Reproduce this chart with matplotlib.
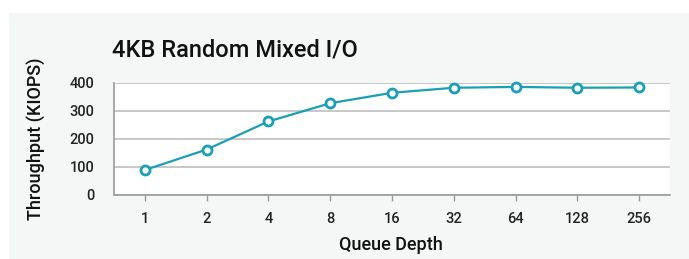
import matplotlib
matplotlib.use("Agg")
import matplotlib.pyplot as plt
from matplotlib.patches import Rectangle

categories = ["1", "2", "4", "8", "16", "32", "64", "128", "256"]
throughput = [89, 162, 262, 327, 364, 382, 385, 382, 383]
yticks = [0, 100, 200, 300, 400]

W, H = 689, 259
fig = plt.figure(figsize=(W / 100, H / 100), dpi=100)
fig.patch.set_facecolor("white")
fig.add_artist(Rectangle((9 / W, 0), 1 - 9 / W, (H - 13) / H, transform=fig.transFigure,
                         facecolor="#f5f6f6", edgecolor="none", zorder=0))

ax = fig.add_axes([114 / W, (H - 195) / H, (670 - 114) / W, (195 - 82.7) / H])
ax.set_facecolor("white")
x = list(range(len(categories)))
teal = "#1a9fb5"
ax.plot(x, throughput, color=teal, lw=1.6, marker="o", ms=6.5, mfc="white",
        mec=teal, mew=2, zorder=3, clip_on=False)

ax.set_xlim(-0.5, len(categories) - 0.5)
ax.set_ylim(0, 400)
ax.set_yticks(yticks)
ax.set_xticks(x)
ax.set_xticklabels(categories)
ax.grid(axis="y", color="#c4c4c4", lw=1.3)
ax.set_axisbelow(True)
for s in ["top", "right"]:
    ax.spines[s].set_visible(False)
for s in ["left", "bottom"]:
    ax.spines[s].set_color("#9a9a9a")
    ax.spines[s].set_linewidth(1.2)
ax.tick_params(axis="y", length=0, pad=14, labelsize=10.5, labelcolor="#222222")
ax.tick_params(axis="x", length=4, width=1, color="#9a9a9a", pad=8, labelsize=10.5,
               labelcolor="#222222")
for lab in ax.get_xticklabels() + ax.get_yticklabels():
    lab.set_fontfamily("Roboto")
    lab.set_fontweight("medium")

fig.text(112 / W, 1 - 57 / H, "4KB Random Mixed I/O", fontsize=17, family="Roboto",
         fontweight="medium", color="#111111", ha="left", va="baseline")
fig.text(37 / W, 1 - 139 / H, "Throughput (KIOPS)", fontsize=13, family="Roboto",
         fontweight="medium", color="#111111", rotation=90, ha="center", va="center")
fig.text(391 / W, 1 - 245 / H, "Queue Depth", fontsize=13, family="Roboto",
         fontweight="medium", color="#111111", ha="center", va="center")

fig.savefig("out.png", dpi=100, facecolor=fig.get_facecolor())
